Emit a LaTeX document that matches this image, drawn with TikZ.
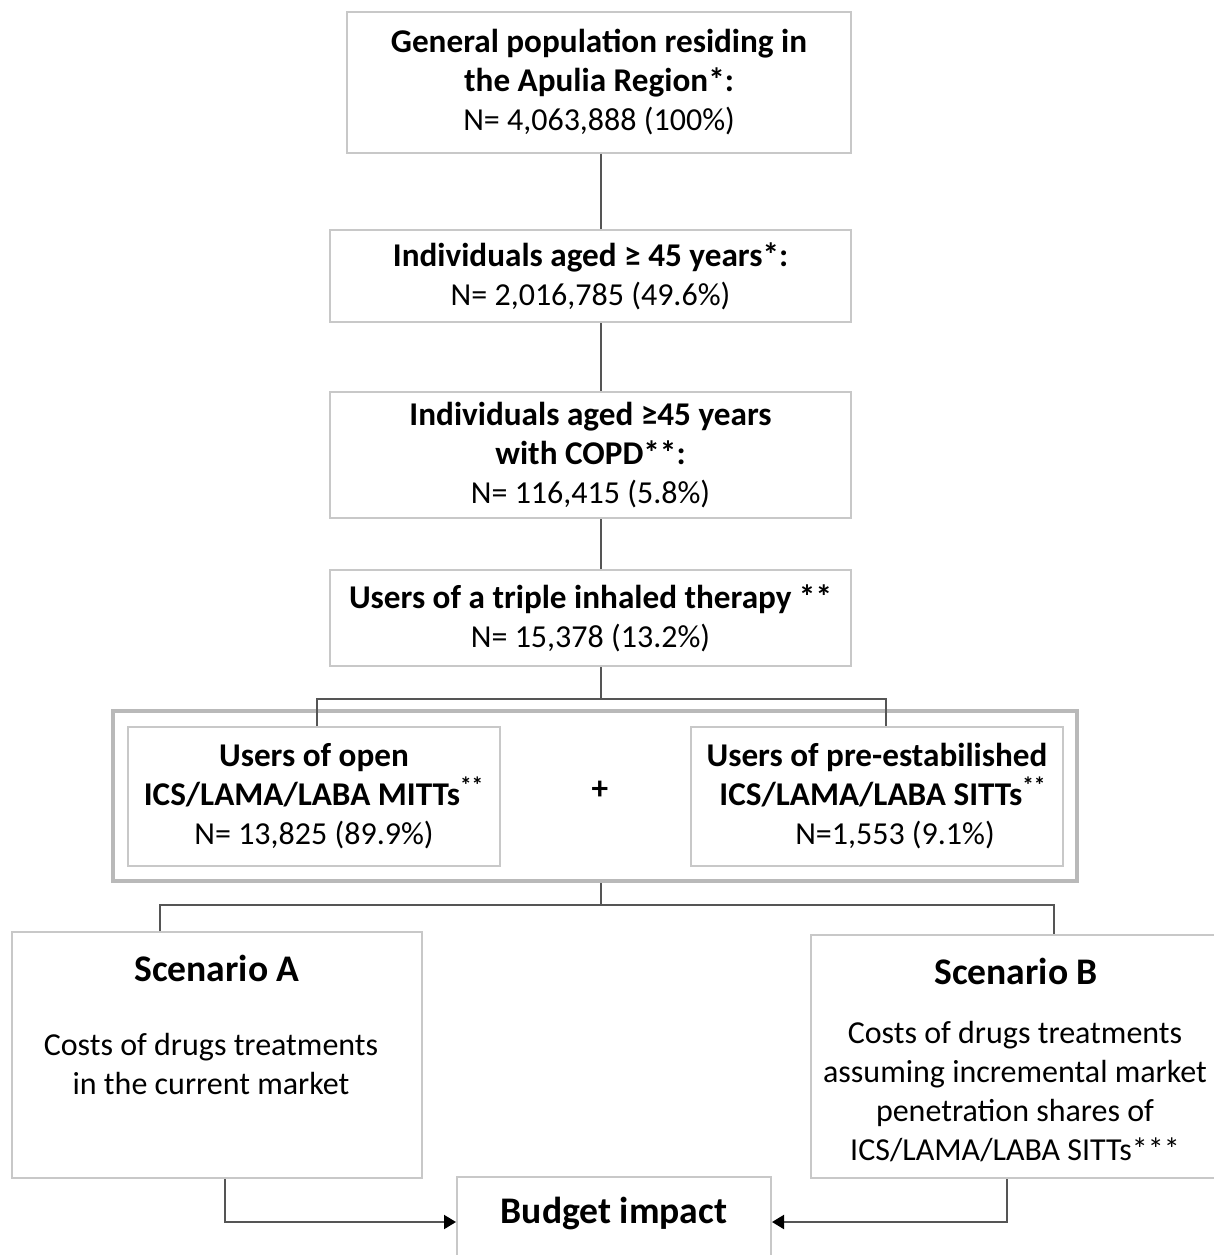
\documentclass[tikz,border=0pt]{standalone}
\usepackage{fontspec}
\setmainfont{Carlito}
\usetikzlibrary{positioning,arrows.meta}
\definecolor{boxgray}{RGB}{200,200,200}
\definecolor{framegray}{RGB}{185,185,185}
\definecolor{linegray}{RGB}{85,85,85}
\newcommand\hd[1]{{\fontsize{16.6}{19.5}\selectfont\bfseries #1}}
\tikzset{
  box/.style={draw=boxgray, line width=1pt, fill=white, align=center, inner sep=0pt},
  link/.style={draw=linegray, line width=1pt},
  arrowlink/.style={link, -{Triangle[length=6pt,width=7pt,color=black]}},
  scentitle/.style={font=\fontsize{18.8}{22}\selectfont\bfseries}
}
\begin{document}
\begin{tikzpicture}[x=0.5pt, y=-0.5pt, font=\fontsize{16}{19.5}\selectfont]
  \path[use as bounding box, fill=white] (0,0) rectangle (1214,1255);
  % population cascade
  \node[box, minimum width=252pt, minimum height=70.5pt] (pop) at (599,82)
    {\hd{General population residing in}\\\hd{the Apulia Region*:}\\N= 4,063,888 (100\%)};
  \node[box, minimum width=260.5pt, minimum height=46pt] (age) at (590.5,276)
    {\hd{Individuals aged ≥ 45 years*:}\\N= 2,016,785 (49.6\%)};
  \node[box, minimum width=260.5pt, minimum height=63pt] (copd) at (590.5,455)
    {\hd{Individuals aged ≥45 years}\\\hd{with COPD**:}\\N= 116,415 (5.8\%)};
  \node[box, minimum width=260.5pt, minimum height=48pt] (triple) at (590.5,618)
    {\hd{Users of a triple inhaled therapy **}\\N= 15,378 (13.2\%)};
  % grouped users
  \node[draw=framegray, line width=2pt, minimum width=482pt, minimum height=85pt] (group) at (595,796) {};
  \node[box, minimum width=186pt, minimum height=69.5pt] (mitt) at (314,796.5)
    {\hd{Users of open}\\\hd{ICS/LAMA/LABA MITTs\textsuperscript{**}}\\N= 13,825 (89.9\%)};
  \node[box, minimum width=186pt, minimum height=69.5pt] (sitt) at (877,796.5)
    {\hd{Users of pre-estabilished}\\\hspace*{6pt}\hd{ICS/LAMA/LABA SITTs\textsuperscript{**}}\\\hspace*{18pt}N=1,553 (9.1\%)};
  \node[font=\fontsize{16.6}{19.5}\selectfont\bfseries] (plus) at (600,790) {+};
  % scenarios
  \node[box, minimum width=205pt, minimum height=123pt] (scenA) at (217,1055) {};
  \node[scentitle] (scenAtitle) at (217,968) {Scenario A};
  \node[align=center] (scenAtext) at (211,1064) {Costs of drugs treatments\\in the current market};
  \node[box, minimum width=204.5pt, minimum height=121.5pt] (scenB) at (1015.5,1056.5) {};
  \node[scentitle] (scenBtitle) at (1016,971) {Scenario B};
  \node[align=center] (scenBtext) at (1015,1092)
    {Costs of drugs treatments\\assuming incremental market\\penetration shares of\\ICS/LAMA/LABA SITTs***};
  \node[box, scentitle, minimum width=157pt, inner ysep=0pt, text height=23pt, text depth=22pt] (budget) at (614,1222) {Budget impact};
  % connectors
  \coordinate (spine) at (601,0);
  \foreach \a/\b in {pop/age, age/copd, copd/triple}{
    \draw[link] (\a.south -| spine) -- (\b.north -| spine);
  }
  \coordinate (forkA) at (601,699);
  \draw[link] (triple.south -| spine) -- (forkA);
  \draw[link] ([xshift=1.5pt]mitt.north) |- (forkA) -| ([xshift=4.5pt]sitt.north);
  \coordinate (forkB) at (601,905);
  \draw[link] (group.south -| spine) -- (forkB);
  \draw[link] ([xshift=-28.5pt]scenA.north) |- (forkB) -| ([xshift=19.25pt]scenB.north);
  \draw[arrowlink] ([xshift=4pt]scenA.south) |- (budget.west);
  \draw[arrowlink] ([xshift=-4.25pt]scenB.south) |- (budget.east);
\end{tikzpicture}
\end{document}
